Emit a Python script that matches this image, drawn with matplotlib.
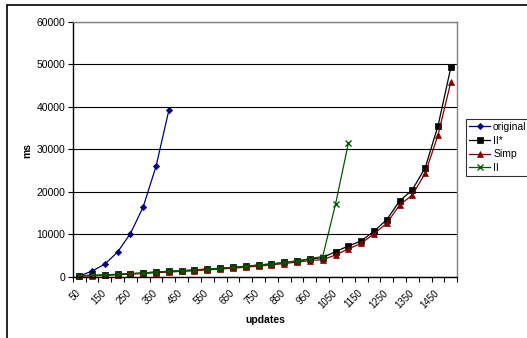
import matplotlib
matplotlib.use("Agg")
import matplotlib.pyplot as plt
import matplotlib.transforms as mtransforms
from matplotlib.patches import Rectangle
import numpy as np

plt.rcParams["font.family"] = ["Liberation Sans", "DejaVu Sans"]

# categories on the x axis (updates)
updates = list(range(50, 1550, 50))

# series values in ms
original = [150, 1300, 2950, 5800, 10150, 16450, 26000, 39200]
ll_star = [240, 310, 400, 570, 710, 870, 1110, 1270, 1410, 1580,
           1810, 1980, 2220, 2450, 2750, 3000, 3350, 3700, 4150, 4500,
           5900, 7240, 8420, 10700, 13450, 17850, 20500, 25700, 35600, 49350]
simp = [150, 200, 300, 450, 600, 750, 950, 1100, 1250, 1400,
        1600, 1800, 2000, 2250, 2500, 2800, 3100, 3450, 3800, 4000,
        5100, 6550, 7850, 10100, 12600, 16900, 19250, 24400, 33400, 45950]
ll = [240, 310, 400, 570, 710, 870, 1110, 1270, 1410, 1580,
      1810, 1980, 2220, 2450, 2750, 3000, 3350, 3700, 4250, 4750,
      17060, 31400]

series = {
    "original": dict(y=original, c="#000080", marker="D", ms=3.2),
    "ll*": dict(y=ll_star, c="#000000", marker="s", ms=4.2),
    "Simp": dict(y=simp, c="#800000", marker="^", ms=4.2),
    "ll": dict(y=ll, c="#005a00", marker="x", ms=4.0),
}
labels = {"original": "original", "ll*": "II*", "Simp": "Simp", "ll": "II"}

W, H = 527, 338
fig = plt.figure(figsize=(W / 100, H / 100), dpi=100)
ax = fig.add_axes([72.7 / W, 1 - 276.7 / H, 384.6 / W, 254.7 / H])

n = len(updates)
for key, s in series.items():
    y = np.array(s["y"])
    x = np.arange(len(y))
    ax.plot(x, y, color=s["c"], lw=0.9, marker=s["marker"], ms=s["ms"],
            mew=1.0 if s["marker"] == "x" else 0.5, mec=s["c"], mfc=s["c"],
            label=labels[key], clip_on=False)

ax.set_xlim(-0.5, n - 0.5)
ax.set_ylim(0, 60000)

# y axis
yt = np.arange(0, 60001, 10000)
ax.set_yticks(yt)
ax.set_yticklabels([str(v) for v in yt], fontsize=7.5)
ax.yaxis.grid(True, color="black", lw=0.8)
ax.set_axisbelow(True)

# x axis: ticks at category boundaries, labels every other category
ax.set_xticks(np.arange(-0.5, n, 1.0))
ax.set_xticklabels([])
ax.set_xticks(np.arange(0, n, 2), minor=True)
ax.set_xticklabels([str(updates[i]) for i in range(0, n, 2)], minor=True,
                   rotation=45, ha="right", va="top", rotation_mode="anchor",
                   fontsize=7)
ax.tick_params(axis="x", which="minor", length=0, pad=8)
ax.tick_params(axis="x", which="major", length=3.5, width=0.8, direction="out")
ax.tick_params(axis="y", length=3.5, width=0.8, direction="out", pad=2)
shift = mtransforms.ScaledTranslation(-4 / 100, 0, fig.dpi_scale_trans)
for lab in ax.get_xticklabels(minor=True):
    lab.set_transform(lab.get_transform() + shift)

for side in ["top", "right"]:
    ax.spines[side].set_color("#808080")
    ax.spines[side].set_linewidth(1.0)
for side in ["left", "bottom"]:
    ax.spines[side].set_color("black")
    ax.spines[side].set_linewidth(1.0)

fig.text(27 / W, 1 - 150 / H, "ms", rotation=90, ha="center", va="center",
         fontsize=7.5, fontweight="bold")
fig.text(265 / W, 1 - 320 / H, "updates", ha="center", va="center",
         fontsize=7.5, fontweight="bold")

leg = ax.legend(loc="upper left", bbox_to_anchor=(466 / W, 1 - 119 / H),
                bbox_transform=fig.transFigure, fontsize=7.5, frameon=True,
                fancybox=False, edgecolor="black", borderpad=0.3,
                labelspacing=0.35, handlelength=2.0, handletextpad=0.3,
                borderaxespad=0)
leg.get_frame().set_linewidth(0.8)

# outer chart border (runs off the right and bottom edges)
fig.add_artist(Rectangle((7 / W, -0.1), 1.2, 1 - 5 / H + 0.1, fill=False,
                         edgecolor="black", lw=1.2, transform=fig.transFigure))

fig.savefig("out.png", dpi=100)
